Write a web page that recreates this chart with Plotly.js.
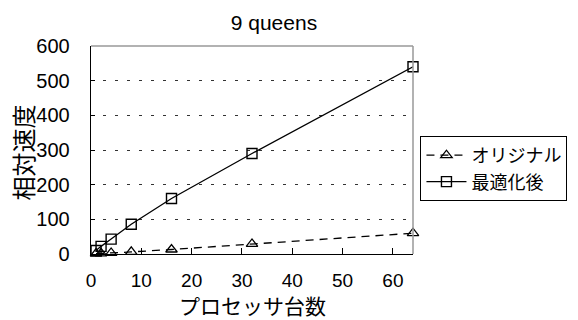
<!DOCTYPE html>
<html><head><meta charset="utf-8">
<script src="https://cdn.plot.ly/plotly-3.0.1.min.js"></script>
<style>body{margin:0;background:#fff}#c{width:578px;height:320px}</style>
</head><body><div id="c"></div>
<script>
const procs = [1, 2, 4, 8, 16, 32, 64];
const original = [1, 2, 3, 6, 13, 29, 60];
const optimized = [10, 22, 43, 86, 160, 290, 540];
const seriesNames = ["オリジナル", "最適化後"];
const xTicks = [0, 10, 20, 30, 40, 50, 60];
const yTicks = [0, 100, 200, 300, 400, 500, 600];
const xTitle = "プロセッサ台数";
const yTitle = "相対速度";

const jp = "'Noto Sans CJK JP', 'Liberation Sans', sans-serif";
const num = "'Liberation Sans Narrow', 'Liberation Sans', 'DejaVu Sans Condensed', sans-serif";
const data = [
  {x: procs, y: original, name: seriesNames[0], mode: "lines+markers", type: "scatter",
   line: {color: "#000", width: 1.3, dash: "8px,6px"},
   marker: {symbol: "triangle-up-open", size: 10, color: "#000", line: {width: 1.3, color: "#000"}}, cliponaxis: false},
  {x: procs, y: optimized, name: seriesNames[1], mode: "lines+markers", type: "scatter",
   line: {color: "#000", width: 1.3},
   marker: {symbol: "square-open", size: 10, color: "#000", line: {width: 1.4, color: "#000"}}, cliponaxis: false}
];
const layout = {
  width: 578, height: 320,
  margin: {l: 91, r: 164, t: 46, b: 66},
  paper_bgcolor: "#fff", plot_bgcolor: "#fff",
  font: {family: jp, color: "#000", size: 16},
  title: {text: "9 queens", x: 0.474, xanchor: "center", y: 0.928, yanchor: "middle",
    font: {size: 21, family: "'Liberation Sans', sans-serif"}},
  xaxis: {range: [0, 64], tickvals: xTicks, ticks: "inside", ticklen: 6, tickcolor: "#000", tickwidth: 1,
    showgrid: false, zeroline: false, showline: true, linecolor: "#000", linewidth: 1.3,
    ticklabelstandoff: 9, tickfont: {family: num, size: 19}},
  yaxis: {range: [0, 600], tickvals: yTicks, ticks: "inside", ticklen: 4, tickcolor: "#000", tickwidth: 1,
    showgrid: true, gridcolor: "#333", griddash: "3px,9px", gridwidth: 1, zeroline: false,
    showline: true, linecolor: "#000", linewidth: 1.3,
    ticklabelstandoff: 16, tickfont: {family: num, size: 20}},
  annotations: [
    {text: xTitle, xref: "paper", yref: "paper", x: 0.5, y: -0.247, xanchor: "center", yanchor: "middle",
     showarrow: false, font: {size: 21, family: jp}},
    {text: yTitle, xref: "paper", yref: "paper", x: -0.213, y: 0.49, xanchor: "center", yanchor: "middle",
     textangle: -90, showarrow: false, font: {size: 24, family: jp}}
  ],
  shapes: [
    {type: "line", xref: "paper", yref: "paper", x0: 0, x1: 1, y0: 1, y1: 1, line: {color: "#999", width: 1.5}},
    {type: "line", xref: "paper", yref: "paper", x0: 1, x1: 1, y0: 0, y1: 1, line: {color: "#999", width: 1.5}}
  ],
  showlegend: true,
  legend: {x: 1.02, xanchor: "left", y: 0.411, yanchor: "middle", bordercolor: "#000", borderwidth: 1,
    bgcolor: "#fff", font: {size: 18, family: jp}, tracegroupgap: 0, itemwidth: 40}
};
Plotly.newPlot("c", data, layout, {displayModeBar: false, staticPlot: true});
</script></body></html>
